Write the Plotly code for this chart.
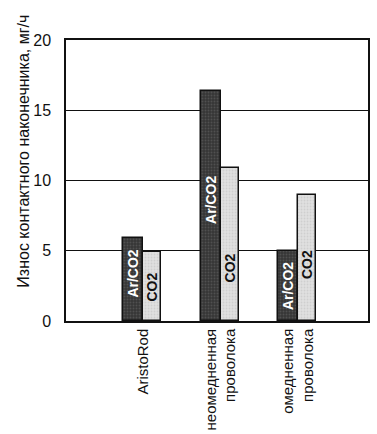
import plotly.graph_objects as go

categories = ["AristoRod", "неомедненная<br>проволока", "омедненная<br>проволока"]
series_names = ["Ar/CO2", "CO2"]
ar_co2 = [5.9, 16.4, 5.0]
co2 = [4.9, 10.9, 9.0]
y_ticks = [0, 5, 10, 15, 20]
y_title = "Износ контактного наконечника, мг/ч"

# styling / label placement
x_pos = [i + 1 for i in range(len(categories))]
label_y_ar = [3.4, 8.6, 2.5]
label_y_co2 = [2.4, 3.8, 4.0]

FONT = "Liberation Sans, Arial, sans-serif"

fig = go.Figure()
fig.add_trace(go.Bar(
    x=x_pos, y=ar_co2, name=series_names[0],
    offset=-0.26, width=0.26,
    marker=dict(color="#3a3a3a", line=dict(color="#111111", width=1.5),
                pattern=dict(shape=".", fgcolor="#6a6a6a", bgcolor="#363636",
                             size=3, solidity=0.3)),
))
fig.add_trace(go.Bar(
    x=x_pos, y=co2, name=series_names[1],
    offset=0.0, width=0.23,
    marker=dict(color="#dcdcdc", line=dict(color="#111111", width=1.5),
                pattern=dict(shape=".", fgcolor="#bdbdbd", bgcolor="#e0e0e0",
                             size=3, solidity=0.3)),
))

for xp, ya, yc in zip(x_pos, label_y_ar, label_y_co2):
    fig.add_annotation(x=xp - 0.13, y=ya, text="<b>" + series_names[0] + "</b>",
                       textangle=-90, showarrow=False,
                       font=dict(family=FONT, size=14, color="white"))
    fig.add_annotation(x=xp + 0.115, y=yc, text="<b>" + series_names[1] + "</b>",
                       textangle=-90, showarrow=False,
                       font=dict(family=FONT, size=14, color="#111111"))

fig.add_annotation(xref="paper", yref="paper", x=-0.175, y=0.605,
                   text=y_title, textangle=-90, showarrow=False,
                   font=dict(family=FONT, size=16, color="#111111"))

fig.update_layout(
    width=377, height=434,
    margin=dict(l=66, r=9, t=40, b=113, autoexpand=False),
    paper_bgcolor="white", plot_bgcolor="white",
    showlegend=False,
    font=dict(family=FONT, size=16, color="#111111"),
    bargap=0,
)
fig.update_xaxes(
    range=[0, 3.9], tickvals=x_pos, ticktext=categories, tickangle=-90,
    showgrid=False, zeroline=False, showline=True, mirror=True,
    linecolor="#111111", linewidth=1.5, ticks="", automargin=False,
    ticklabelstandoff=0,
    tickfont=dict(family=FONT, size=15, color="#111111"),
)
fig.update_yaxes(
    range=[0, 20], tickvals=y_ticks, showgrid=True, gridcolor="#111111",
    gridwidth=1, zeroline=False, showline=True, mirror=True,
    linecolor="#111111", linewidth=1.5, ticks="", ticklabelstandoff=10,
    automargin=False,
    tickfont=dict(family=FONT, size=16, color="#111111"),
)

fig.write_html(
    "out.html",
    config={"responsive": False, "displayModeBar": False},
    post_script="document.body.style.margin='0';document.body.style.overflow='hidden';",
)
